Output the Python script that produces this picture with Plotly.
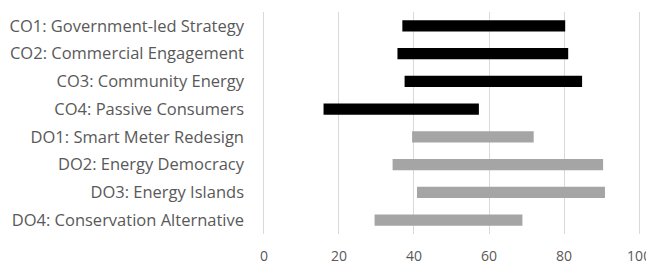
import plotly.graph_objects as go

categories = [
    "CO1: Government-led Strategy",
    "CO2: Commercial Engagement",
    "CO3: Community Energy",
    "CO4: Passive Consumers",
    "DO1: Smart Meter Redesign",
    "DO2: Energy Democracy",
    "DO3: Energy Islands",
    "DO4: Conservation Alternative",
]
low_values = [36.9, 35.6, 37.5, 15.9, 39.5, 34.3, 40.8, 29.5]
high_values = [80.3, 81.1, 84.8, 57.3, 71.9, 90.4, 90.9, 68.9]
groups = ["CO", "CO", "CO", "CO", "DO", "DO", "DO", "DO"]
x_ticks = [0, 20, 40, 60, 80, 100]

color_map = {"CO": "#000000", "DO": "#a5a5a5"}
colors = [color_map[g] for g in groups]

fig = go.Figure(
    go.Bar(
        y=categories,
        x=[h - l for l, h in zip(low_values, high_values)],
        base=low_values,
        orientation="h",
        marker=dict(color=colors, line=dict(width=0)),
        width=0.4,
        showlegend=False,
    )
)

font_family = "Open Sans, Lato, Liberation Sans, sans-serif"
# page body has an 8px default margin, so the figure is sized to compensate
fig.update_layout(
    width=646,
    height=258,
    margin=dict(l=254, r=13, t=4, b=32, autoexpand=False),
    paper_bgcolor="white",
    plot_bgcolor="white",
    font=dict(family=font_family, size=14, color="#595959"),
    xaxis=dict(
        range=[-0.5, 100.5],
        tickvals=x_ticks,
        showgrid=True,
        gridcolor="#d9d9d9",
        gridwidth=1,
        zeroline=False,
        showline=False,
        ticks="",
        automargin=False,
        ticklabelstandoff=12,
        tickfont=dict(size=14),
    ),
    yaxis=dict(
        categoryorder="array",
        categoryarray=categories,
        autorange="reversed",
        showgrid=False,
        zeroline=False,
        showline=False,
        ticks="",
        automargin=False,
        ticklabelstandoff=17,
        tickfont=dict(size=16.5),
    ),
)

fig.write_html("out.html")
